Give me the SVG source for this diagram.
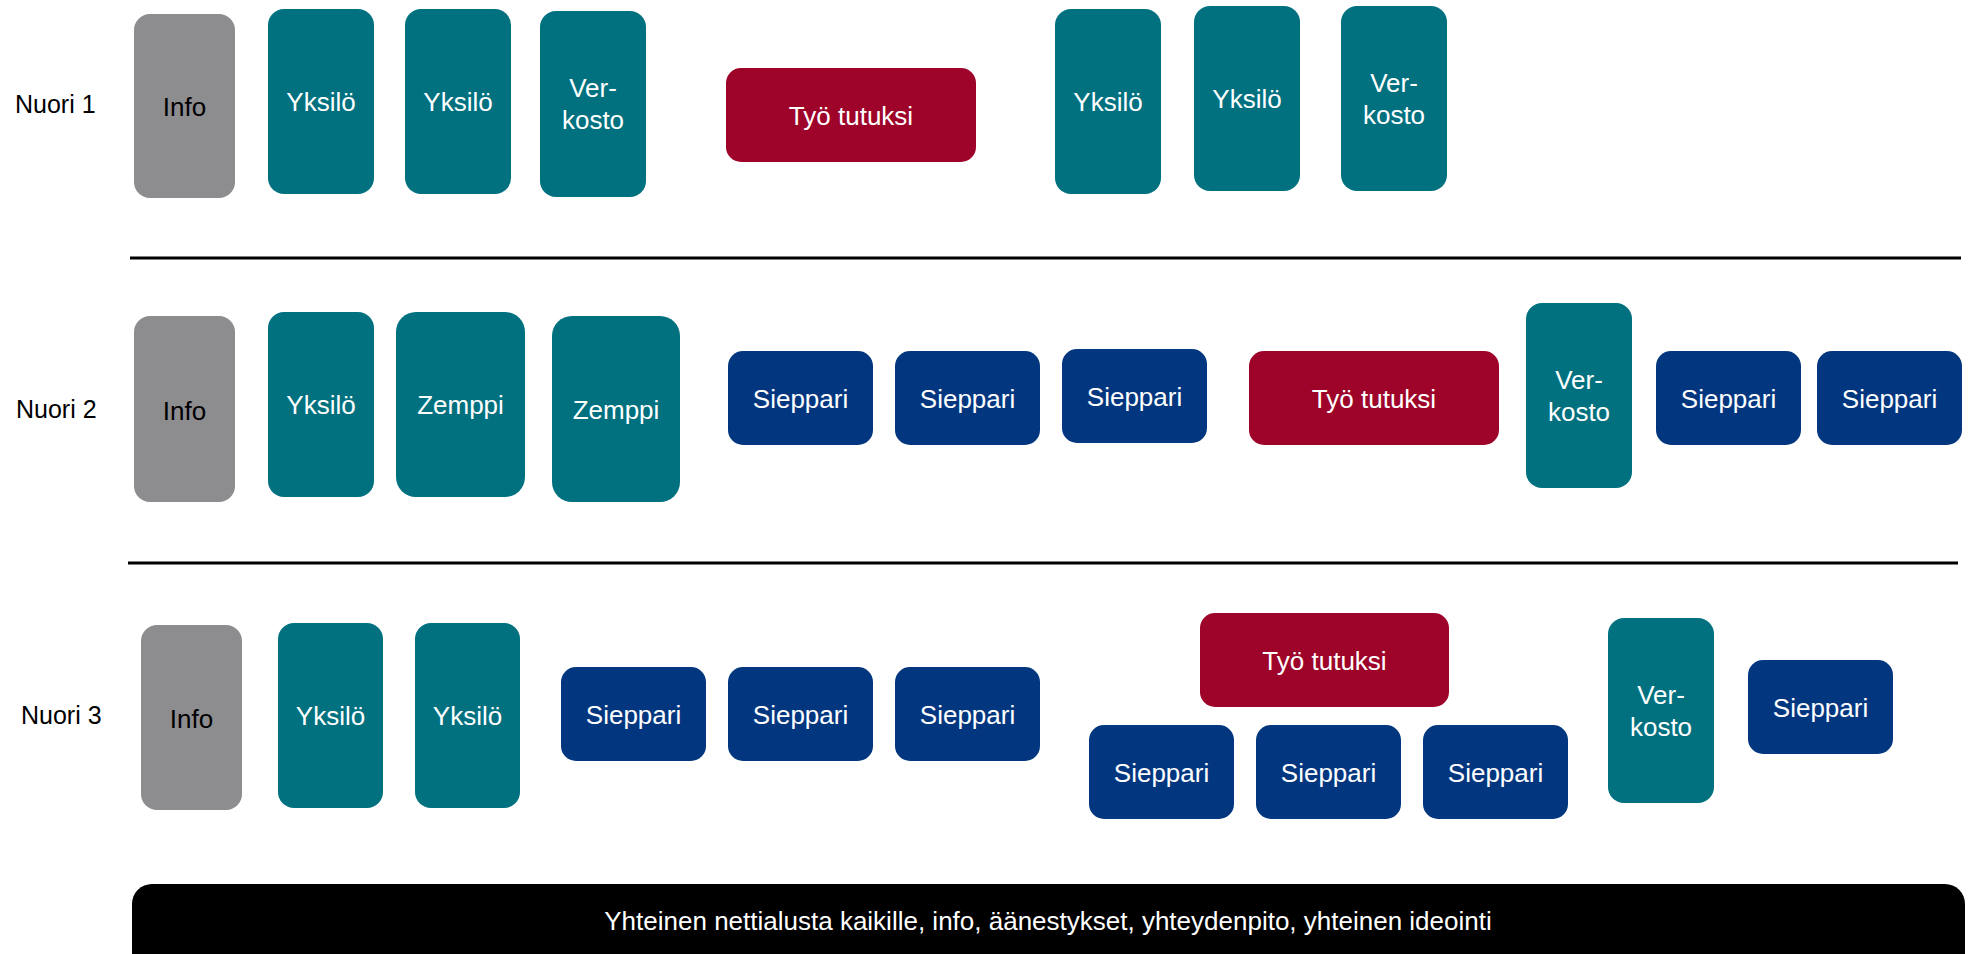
<svg xmlns="http://www.w3.org/2000/svg" width="1971" height="954" viewBox="0 0 1971 954">
<style>
.bg{fill:#ffffff}
.info{fill:#8d8d8f}
.teal{fill:#017180}
.navy{fill:#023780}
.red{fill:#9e0429}
.bar{fill:#000000}
text{font-family:"Liberation Sans",Arial,sans-serif;font-size:26px;text-anchor:middle}
.w{fill:#ffffff}
.k{fill:#000000}
.lbl{fill:#000000;text-anchor:start;font-size:25px}
.sep{stroke:#000000;stroke-width:3}
</style>
<rect class="bg" x="0" y="0" width="1971" height="954"/>

<g id="labels">
<text class="lbl" x="15" y="113">Nuori 1</text>
<text class="lbl" x="16" y="418">Nuori 2</text>
<text class="lbl" x="21" y="724">Nuori 3</text>
</g>

<g id="separators">
<line class="sep" x1="130" y1="258" x2="1961" y2="258"/>
<line class="sep" x1="128" y1="563" x2="1958" y2="563"/>
</g>

<!-- Row 1 -->
<g id="r1-info"><rect class="info" x="134" y="14" width="101" height="184" rx="16"/><text class="k" x="184.5" y="116">Info</text></g>
<g id="r1-yksilo1"><rect class="teal" x="268" y="9" width="106" height="185" rx="16"/><text class="w" x="321" y="111">Yksilö</text></g>
<g id="r1-yksilo2"><rect class="teal" x="405" y="9" width="106" height="185" rx="16"/><text class="w" x="458" y="111">Yksilö</text></g>
<g id="r1-verkosto1"><rect class="teal" x="540" y="11" width="106" height="186" rx="16"/><text class="w" x="593" y="97">Ver-</text><text class="w" x="593" y="129">kosto</text></g>
<g id="r1-tyo"><rect class="red" x="726" y="68" width="250" height="94" rx="15"/><text class="w" x="851" y="125">Työ tutuksi</text></g>
<g id="r1-yksilo3"><rect class="teal" x="1055" y="9" width="106" height="185" rx="16"/><text class="w" x="1108" y="111">Yksilö</text></g>
<g id="r1-yksilo4"><rect class="teal" x="1194" y="6" width="106" height="185" rx="16"/><text class="w" x="1247" y="108">Yksilö</text></g>
<g id="r1-verkosto2"><rect class="teal" x="1341" y="6" width="106" height="185" rx="16"/><text class="w" x="1394" y="92">Ver-</text><text class="w" x="1394" y="124">kosto</text></g>

<!-- Row 2 -->
<g id="r2-info"><rect class="info" x="134" y="316" width="101" height="186" rx="16"/><text class="k" x="184.5" y="420">Info</text></g>
<g id="r2-yksilo"><rect class="teal" x="268" y="312" width="106" height="185" rx="16"/><text class="w" x="321" y="414">Yksilö</text></g>
<g id="r2-zemppi1"><rect class="teal" x="396" y="312" width="129" height="185" rx="20"/><text class="w" x="460.5" y="414">Zemppi</text></g>
<g id="r2-zemppi2"><rect class="teal" x="552" y="316" width="128" height="186" rx="20"/><text class="w" x="616" y="419">Zemppi</text></g>
<g id="r2-sieppari1"><rect class="navy" x="728" y="351" width="145" height="94" rx="15"/><text class="w" x="800.5" y="408">Sieppari</text></g>
<g id="r2-sieppari2"><rect class="navy" x="895" y="351" width="145" height="94" rx="15"/><text class="w" x="967.5" y="408">Sieppari</text></g>
<g id="r2-sieppari3"><rect class="navy" x="1062" y="349" width="145" height="94" rx="15"/><text class="w" x="1134.5" y="406">Sieppari</text></g>
<g id="r2-tyo"><rect class="red" x="1249" y="351" width="250" height="94" rx="15"/><text class="w" x="1374" y="408">Työ tutuksi</text></g>
<g id="r2-verkosto"><rect class="teal" x="1526" y="303" width="106" height="185" rx="16"/><text class="w" x="1579" y="389">Ver-</text><text class="w" x="1579" y="421">kosto</text></g>
<g id="r2-sieppari4"><rect class="navy" x="1656" y="351" width="145" height="94" rx="15"/><text class="w" x="1728.5" y="408">Sieppari</text></g>
<g id="r2-sieppari5"><rect class="navy" x="1817" y="351" width="145" height="94" rx="15"/><text class="w" x="1889.5" y="408">Sieppari</text></g>

<!-- Row 3 -->
<g id="r3-info"><rect class="info" x="141" y="625" width="101" height="185" rx="16"/><text class="k" x="191.5" y="728">Info</text></g>
<g id="r3-yksilo1"><rect class="teal" x="278" y="623" width="105" height="185" rx="16"/><text class="w" x="330.5" y="725">Yksilö</text></g>
<g id="r3-yksilo2"><rect class="teal" x="415" y="623" width="105" height="185" rx="16"/><text class="w" x="467.5" y="725">Yksilö</text></g>
<g id="r3-sieppari1"><rect class="navy" x="561" y="667" width="145" height="94" rx="15"/><text class="w" x="633.5" y="724">Sieppari</text></g>
<g id="r3-sieppari2"><rect class="navy" x="728" y="667" width="145" height="94" rx="15"/><text class="w" x="800.5" y="724">Sieppari</text></g>
<g id="r3-sieppari3"><rect class="navy" x="895" y="667" width="145" height="94" rx="15"/><text class="w" x="967.5" y="724">Sieppari</text></g>
<g id="r3-tyo"><rect class="red" x="1200" y="613" width="249" height="94" rx="15"/><text class="w" x="1324.5" y="670">Työ tutuksi</text></g>
<g id="r3-sieppari4"><rect class="navy" x="1089" y="725" width="145" height="94" rx="15"/><text class="w" x="1161.5" y="782">Sieppari</text></g>
<g id="r3-sieppari5"><rect class="navy" x="1256" y="725" width="145" height="94" rx="15"/><text class="w" x="1328.5" y="782">Sieppari</text></g>
<g id="r3-sieppari6"><rect class="navy" x="1423" y="725" width="145" height="94" rx="15"/><text class="w" x="1495.5" y="782">Sieppari</text></g>
<g id="r3-verkosto"><rect class="teal" x="1608" y="618" width="106" height="185" rx="16"/><text class="w" x="1661" y="704">Ver-</text><text class="w" x="1661" y="736">kosto</text></g>
<g id="r3-sieppari7"><rect class="navy" x="1748" y="660" width="145" height="94" rx="15"/><text class="w" x="1820.5" y="717">Sieppari</text></g>

<!-- Bottom bar -->
<g id="platform"><rect class="bar" x="132" y="884" width="1833" height="100" rx="20"/><text class="w" x="1048" y="930">Yhteinen nettialusta kaikille, info, äänestykset, yhteydenpito, yhteinen ideointi</text></g>
</svg>
